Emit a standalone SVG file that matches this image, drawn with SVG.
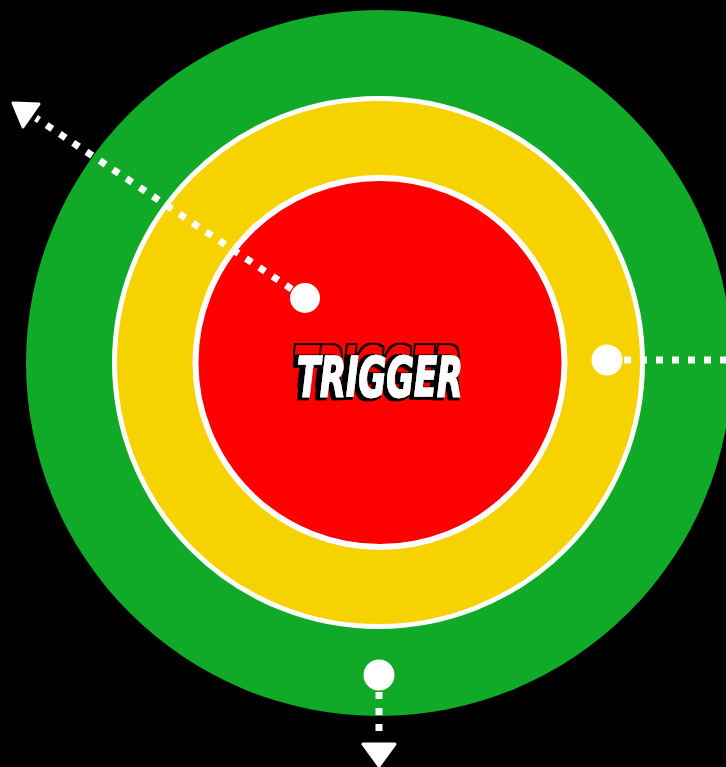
<svg xmlns="http://www.w3.org/2000/svg" width="726" height="767" viewBox="0 0 726 767">
<style>
.dots{fill:none;stroke:#fff;stroke-width:7;stroke-dasharray:7 9}
.dot{fill:#fff}
.head{fill:#fff;stroke:#fff;stroke-width:3;stroke-linejoin:round}
.t{font-family:"DejaVu Sans Condensed","DejaVu Sans","Liberation Sans",sans-serif;font-weight:bold;font-style:italic;font-size:56px}
</style>
<defs>
<filter id="comic" x="-20%" y="-50%" width="140%" height="200%">
<feOffset in="SourceAlpha" dx="-3" dy="-10" result="backA"/>
<feMorphology in="backA" operator="dilate" radius="2" result="backO"/>
<feFlood flood-color="#ff0000" result="red"/>
<feComposite in="red" in2="backA" operator="in" result="backR"/>
<feOffset in="SourceAlpha" dx="-3" dy="1" result="shA"/>
<feMorphology in="shA" operator="dilate" radius="1.5" result="shO"/>
<feMerge>
<feMergeNode in="backO"/>
<feMergeNode in="backR"/>
<feMergeNode in="shO"/>
<feMergeNode in="SourceGraphic"/>
</feMerge>
</filter>
</defs>
<rect width="726" height="767" fill="#000"/>
<g id="outer"><circle cx="379" cy="363" r="353" fill="#10a928"/></g>
<g id="middle"><circle cx="378.5" cy="362.5" r="264" fill="#f5d200" stroke="#fff" stroke-width="5"/></g>
<g id="inner"><circle cx="380" cy="362.5" r="184.5" fill="#ff0000" stroke="#fff" stroke-width="6"/></g>
<g id="connectors">
<path class="dots" d="M305 298 L36 118"/>
<polygon class="head" points="13,103 39,104 23,127"/>
<path class="dots" d="M608 360 L726 360"/>
<path class="dots" d="M379 676 L379 740"/>
<polygon class="head" points="363,744 395,744 379,766"/>
<circle class="dot" cx="305" cy="298" r="15"/>
<circle class="dot" cx="607" cy="360" r="15.5"/>
<circle class="dot" cx="379" cy="675" r="15.5"/>
</g>
<g id="label">
<text class="t" x="297" y="396" textLength="166" lengthAdjust="spacingAndGlyphs" fill="#fff" stroke="#fff" stroke-width="1.5" filter="url(#comic)">TRIGGER</text>
</g>
</svg>
